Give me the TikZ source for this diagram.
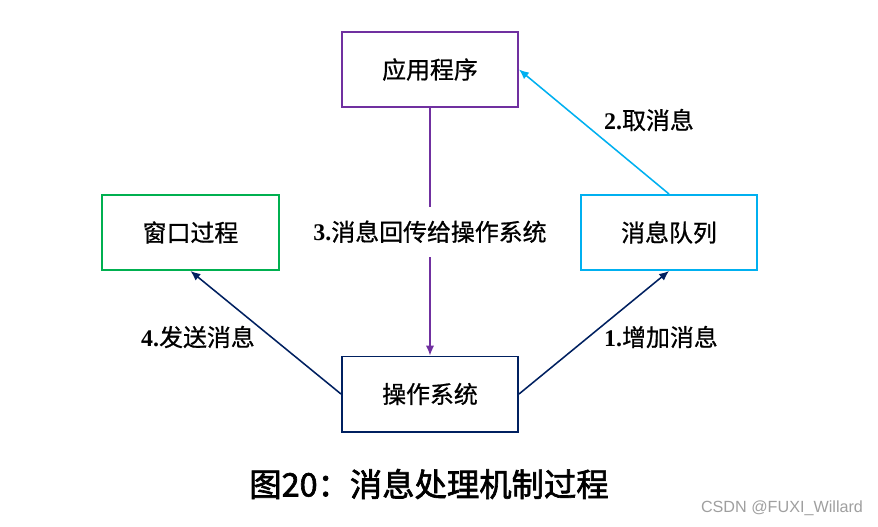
\documentclass[tikz,border=0pt]{standalone}
\usepackage{fontspec}
\setmainfont{Liberation Serif}
\newfontfamily\cjk[FakeBold=0.8]{Noto Sans CJK SC}
\newfontfamily\cjkbold[FakeBold=2]{Noto Sans CJK SC}
\newfontfamily\wmark{Liberation Sans}
\usetikzlibrary{arrows.meta}

\definecolor{appcol}{HTML}{7030A0}
\definecolor{wincol}{HTML}{00B050}
\definecolor{quecol}{HTML}{00B0F0}
\definecolor{oscol}{HTML}{002060}

\def\bw{4.4cm}
\def\bh{1.875cm}

\tikzset{
  >={Latex[length=7pt,width=6pt]},
  box/.style={draw, line width=1.4pt, fill=white, minimum width=\bw, minimum height=\bh,
    font=\fontsize{17}{20}\selectfont\cjk},
  lbl/.style={font=\fontsize{17}{20}\selectfont, inner sep=2pt},
  link/.style={->, line width=1.1pt}
}

\begin{document}
\begin{tikzpicture}[x=0.025cm, y=-0.025cm]
\useasboundingbox (0,0) rectangle (878,526);

%% the four boxes
\node[box, draw=appcol] (app) at (430,69.5) {应用程序};
\node[box, draw=wincol] (win) at (190.5,232.5) {窗口过程};
\node[box, draw=quecol] (que) at (669,232.5) {消息队列};
\node[box, draw=oscol] (os) at (430,394) {操作系统};

% message flow
\draw[link, draw=oscol] (os.east) -- (que.south);
\draw[link, draw=quecol] (que.north) -- (app.east);
\draw[link, draw=appcol] (app.south) -- node[lbl, fill=white, inner xsep=4pt, inner ysep=10pt] (back) {\textbf{3.}{\cjk 消息回传给操作系统}} (os.north);
\draw[link, draw=oscol] (os.west) -- (win.south);

% step labels
\node[lbl] (take) at (649,120) {\textbf{2.}{\cjk 取消息}};
\node[lbl] (add) at (661,337) {\textbf{1.}{\cjk 增加消息}};
\node[lbl] (send) at (198,337) {\textbf{4.}{\cjk 发送消息}};

% caption and watermark
\node[font=\fontsize{23}{27}\selectfont\cjkbold] (cap) at (429,484) {图20：消息处理机制过程};
\node[font=\fontsize{11.5}{13}\selectfont\wmark, text=gray!75] (mark) at (782,508) {CSDN @FUXI\_Willard};
\end{tikzpicture}
\end{document}
